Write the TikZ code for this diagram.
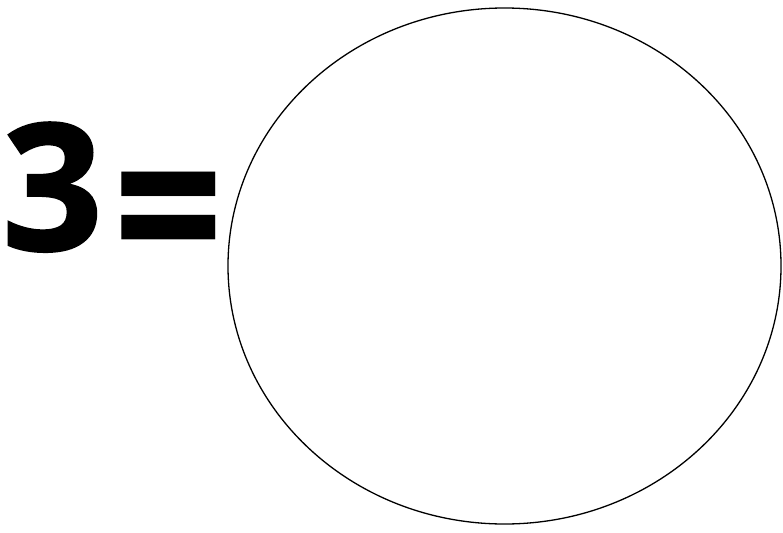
\documentclass[tikz,border=0pt]{standalone}
\usepackage{fontspec}
\setmainfont{Open Sans}[BoldFeatures={FakeBold=1.5}]
\newfontfamily\eqfont{Open Sans}
\tikzset{bigsign/.style={inner sep=0pt,font=\fontsize{176}{176}\selectfont\bfseries}}
\begin{document}
\begin{tikzpicture}[x=1pt,y=-1pt]
\useasboundingbox (0,0) rectangle (783,532);
\node[bigsign,anchor=base west] (three) at (2,250) {3};
\node[inner sep=0pt,anchor=base west,font=\fontsize{176}{176}\eqfont\bfseries,xscale=1.1,yscale=1.3] (eq) at (113,286) {=};
\draw[line width=1.3pt] (504.5,266) ellipse (276.5 and 258);
\end{tikzpicture}
\end{document}
